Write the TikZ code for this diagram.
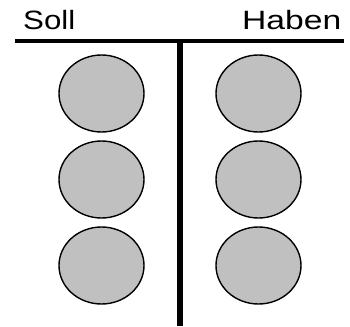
\documentclass[tikz,border=0pt]{standalone}
\usepackage{fontspec}
\setmainfont{Liberation Sans}
\usetikzlibrary{shapes.geometric}
\definecolor{ballgray}{HTML}{C0C0C0}
\tikzset{
  ball/.style={ellipse, draw=black, line width=1.4pt, fill=ballgray,
    minimum width=85pt, minimum height=77pt, inner sep=0pt},
  head/.style={inner sep=0pt, font=\fontsize{26.5pt}{30pt}\selectfont},
  rule/.style={line width=4pt},
  stem/.style={line width=5.5pt}
}
\begin{document}
\begin{tikzpicture}[x=1pt,y=-1pt]
\useasboundingbox (0,0) rectangle (350,326);
\node[head, anchor=base west] (soll) at (23,29.3) {\scalebox{1.18}[1]{Soll}};
\node[head, anchor=base east] (haben) at (341.5,29.3) {\scalebox{1.27}[1]{Haben}};
\coordinate (hl) at (15,41.3);
\coordinate (hr) at (344,41.3);
\coordinate (vt) at (180,41.3);
\coordinate (vb) at (180,326);
\draw[rule] (hl) -- (hr);
\draw[stem] (vt) -- (vb);
\node[ball] (l1) at (101.5,93.5) {};
\node[ball] (l2) at (101.5,179.5) {};
\node[ball] (l3) at (101.5,265.5) {};
\node[ball] (r1) at (258.5,93.5) {};
\node[ball] (r2) at (258.5,179.5) {};
\node[ball] (r3) at (258.5,265.5) {};
\end{tikzpicture}
\end{document}
